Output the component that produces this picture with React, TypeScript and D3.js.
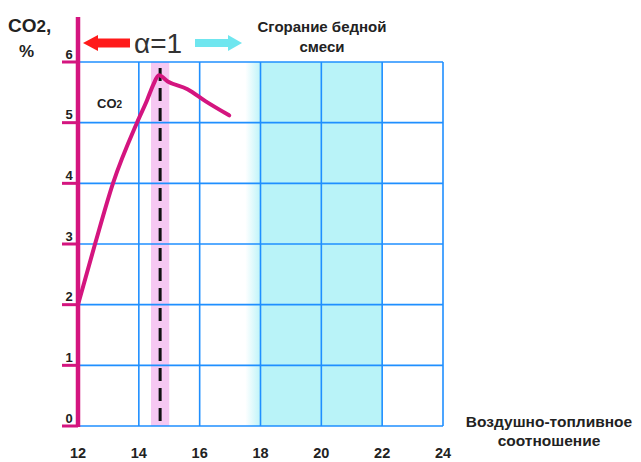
import React from "react";
import * as d3 from "d3";

const xTicks = [12, 14, 16, 18, 20, 22, 24];
const yTicks = [0, 1, 2, 3, 4, 5, 6];
const curveX = [12, 12.56, 13.15, 13.94, 14.27, 14.47, 14.66, 14.95, 15.6, 16.2, 16.97];
const curveY = [2, 3, 4, 5, 5.37, 5.62, 5.78, 5.68, 5.55, 5.35, 5.12];
const stoich = 14.7;
const stoichBand = [14.4, 15.0];
const leanBand = [17.5, 22];

const W = 641, H = 462;
const FONT = "'Liberation Sans', Arial, sans-serif";
const MAG = "#d4157f";
const BLUE = "#1f8fff";

export default function App() {
  const x = d3.scaleLinear().domain([12, 24]).range([78, 443]);
  const y = d3.scaleLinear().domain([0, 6]).range([426, 62]);
  const pts = curveX.map((v, i) => [v, curveY[i]] as [number, number]);
  const line = d3.line<[number, number]>().x(d => x(d[0])).y(d => y(d[1])).curve(d3.curveMonotoneX);

  return (
    <svg width={W} height={H} style={{ position: "absolute", left: 0, top: 0, background: "#fff" }} fontFamily={FONT}>
      <defs>
        <linearGradient id="leanG" x1="0" x2="1" y1="0" y2="0">
          <stop offset="0" stopColor="#b9f3f8" stopOpacity={0} />
          <stop offset="0.12" stopColor="#b9f3f8" stopOpacity={1} />
          <stop offset="1" stopColor="#b9f3f8" stopOpacity={1} />
        </linearGradient>
      </defs>
      <rect x={0} y={0} width={W} height={H} fill="#fff" />
      {/* bands */}
      <rect x={x(leanBand[0])} y={y(6)} width={x(leanBand[1]) - x(leanBand[0])} height={y(0) - y(6)} fill="url(#leanG)" />
      <rect x={x(stoichBand[0])} y={y(6)} width={x(stoichBand[1]) - x(stoichBand[0])} height={y(0) - y(6)} fill="#f6c8f2" />
      {/* grid */}
      {xTicks.slice(1).map(t => (
        <line key={"gx" + t} x1={x(t)} x2={x(t)} y1={y(6)} y2={y(0)} stroke={BLUE} strokeWidth={1.6} />
      ))}
      {yTicks.map(t => (
        <line key={"gy" + t} x1={x(12)} x2={x(24)} y1={y(t)} y2={y(t)} stroke={BLUE} strokeWidth={1.6} />
      ))}
      {/* dashed stoichiometric line */}
      <line x1={x(stoich)} x2={x(stoich)} y1={y(6) + 6} y2={y(0)} stroke="#111" strokeWidth={3} strokeDasharray="13,7" />
      {/* y axis */}
      <line x1={x(12)} x2={x(12)} y1={17} y2={y(0) + 1} stroke={MAG} strokeWidth={4.5} />
      {yTicks.map(t => (
        <g key={"yt" + t}>
          <line x1={62} x2={x(12)} y1={y(t)} y2={y(t)} stroke={MAG} strokeWidth={3} />
          <text x={69} y={y(t) - 3.5} textAnchor="middle" fontSize={13} fontWeight="bold" fill="#222">{t}</text>
        </g>
      ))}
      {/* curve */}
      <path d={line(pts) || ""} fill="none" stroke={MAG} strokeWidth={4} strokeLinejoin="round" strokeLinecap="round" />
      {/* x tick labels */}
      {xTicks.map(t => (
        <text key={"xt" + t} x={x(t)} y={458} textAnchor="middle" fontSize={14.5} fontWeight="bold" fill="#222">{t}</text>
      ))}
      {/* titles */}
      <text x={8} y={32} fontSize={19} fontWeight="bold" fill="#222">CO<tspan fontSize={17}>2</tspan>,</text>
      <text x={19} y={57} fontSize={17} fontWeight="bold" fill="#222">%</text>
      <text x={97} y={108} fontSize={13} fontWeight="bold" fill="#222">CO<tspan fontSize={10}>2</tspan></text>
      {/* arrows */}
      <path d="M83,43 L98,35 L98,38.5 L130,38.5 L130,47.5 L98,47.5 L98,51 Z" fill="#ff1a1a" />
      <text x={134} y={53} fontSize={28} fill="#333">α=1</text>
      <path d="M242,43 L228,35 L228,39 L195,39 L195,47 L228,47 L228,51 Z" fill="#6fe6ef" />
      <text x={322} y={32} textAnchor="middle" fontSize={15} fontWeight="bold" fill="#222">Сгорание бедной</text>
      <text x={322} y={52} textAnchor="middle" fontSize={15} fontWeight="bold" fill="#222">смеси</text>
      <text x={549} y={427} textAnchor="middle" fontSize={15.5} fontWeight="bold" fill="#222">Воздушно-топливное</text>
      <text x={549} y={446} textAnchor="middle" fontSize={15.5} fontWeight="bold" fill="#222">соотношение</text>
    </svg>
  );
}
